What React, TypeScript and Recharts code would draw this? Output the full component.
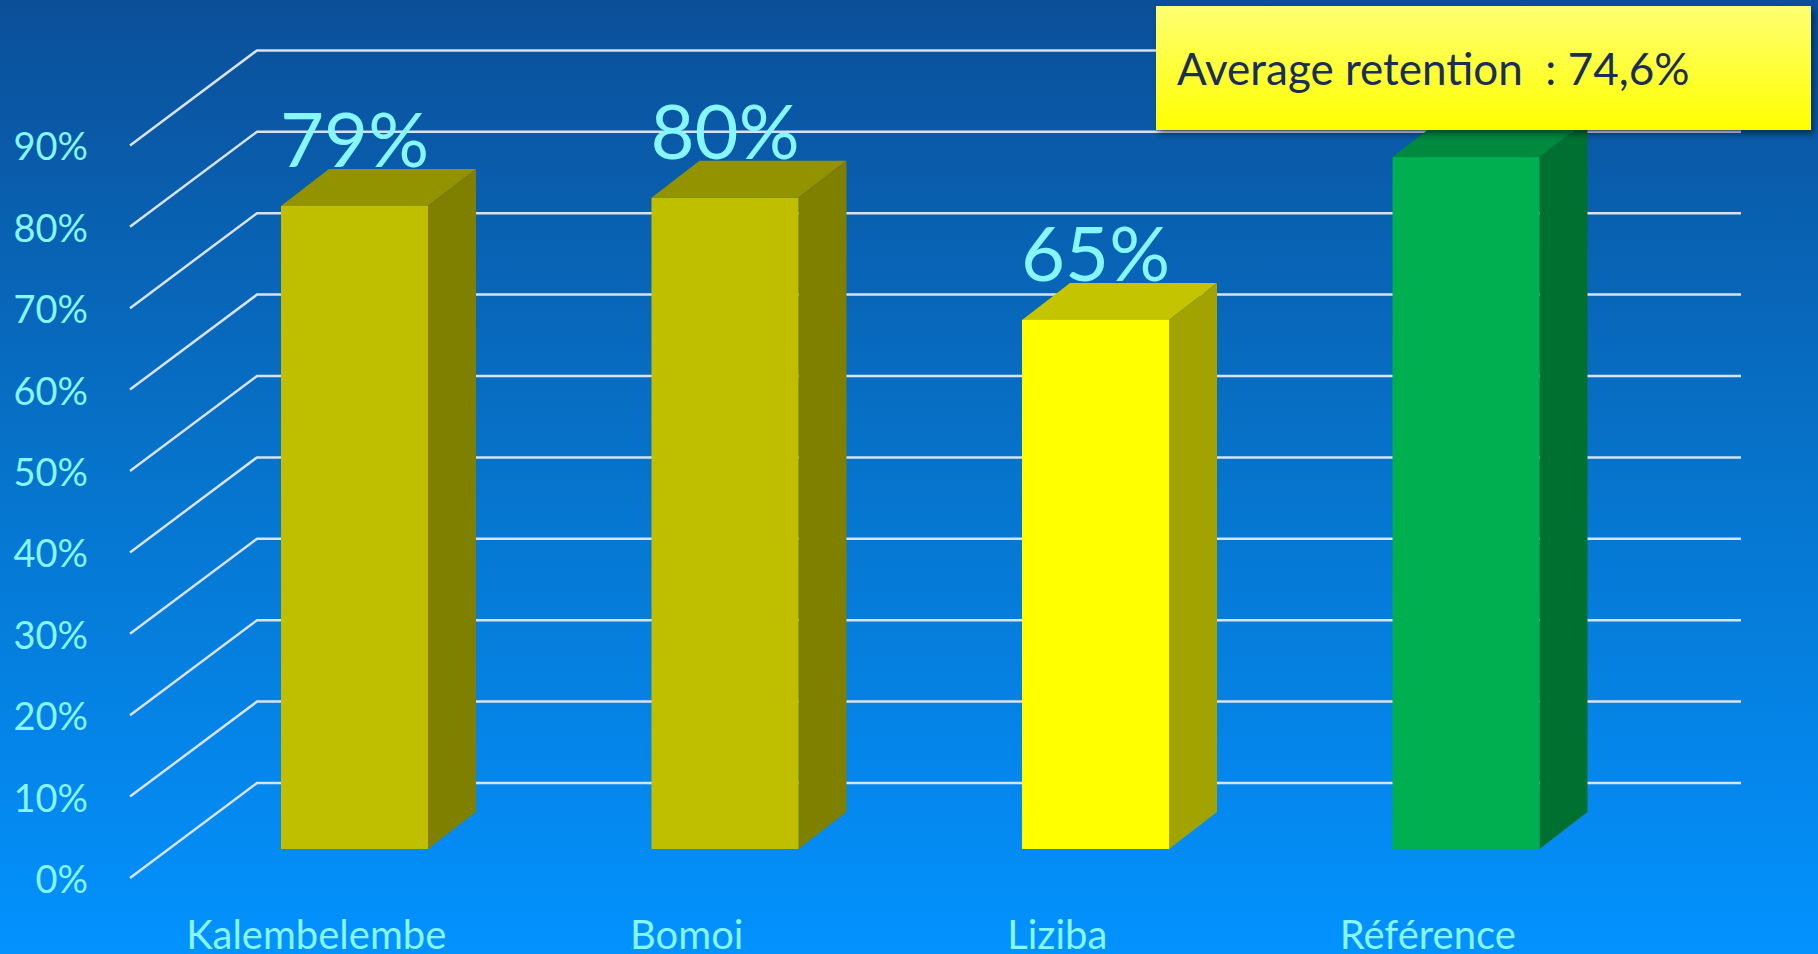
import React from 'react'
import { BarChart, Bar, XAxis, YAxis, CartesianGrid, Cell, LabelList } from 'recharts'

const sites = ['Kalembelembe', 'Bomoi', 'Liziba', 'Référence']
const retention = [79, 80, 65, 85]
const yTicks = [0, 10, 20, 30, 40, 50, 60, 70, 80, 90]
const averageText = 'Average retention  : 74,6%'

// front / top / side shades for each bar
const palette = [
  { front: '#bfbf00', top: '#939300', side: '#7f7f00' },
  { front: '#bfbf00', top: '#939300', side: '#7f7f00' },
  { front: '#ffff00', top: '#c4c400', side: '#a3a300' },
  { front: '#00b050', top: '#008a3e', side: '#007030' },
]

const data = sites.map((name, i) => ({ name, value: retention[i] }))

const FONT = 'Lato, "Open Sans", sans-serif'
const CYAN = '#86f6ff'
const DEPTH_X = 48
const DEPTH_Y = 37
// grid sits behind the bar front plane
const BACK_DY = -66
const FRONT_DY = 29
const BACK_X1 = 257
const BACK_X2 = 1741
const FRONT_X = 130

function Box3D(props: any) {
  const { x, y, width, height, index } = props
  const c = palette[index] || palette[0]
  const x2 = x + width
  const yb = y + height
  return (
    <g>
      <polygon
        points={`${x},${y} ${x + DEPTH_X},${y - DEPTH_Y} ${x2 + DEPTH_X},${y - DEPTH_Y} ${x2},${y}`}
        fill={c.top}
      />
      <polygon
        points={`${x2},${y} ${x2 + DEPTH_X},${y - DEPTH_Y} ${x2 + DEPTH_X},${yb - DEPTH_Y} ${x2},${yb}`}
        fill={c.side}
      />
      <rect x={x} y={y} width={width} height={height} fill={c.front} />
    </g>
  )
}

function GridLine(props: any) {
  const y = props.y1
  // skip the plot's top border, only the tick lines are wanted
  if (Math.abs(y - props.y) < 1) return <g key={props.key ?? 'top'} />
  return (
    <polyline
      key={props.key ?? `g-${y}`}
      points={`${FRONT_X},${y + FRONT_DY} ${BACK_X1},${y + BACK_DY} ${BACK_X2},${y + BACK_DY}`}
      fill="none"
      stroke="#d9e2ef"
      strokeWidth={2.5}
    />
  )
}

function YTick(props: any) {
  const { y, payload } = props
  return (
    <text x={88} y={y + FRONT_DY} textAnchor="end" dominantBaseline="central" fill={CYAN} fontSize={38} fontFamily={FONT}>
      {payload.value}%
    </text>
  )
}

function XTick(props: any) {
  const { x, payload } = props
  return (
    <text x={x - 38} y={934} textAnchor="middle" dominantBaseline="central" fill={CYAN} fontSize={40} fontFamily={FONT}>
      {payload.value}
    </text>
  )
}

function ValueLabel(props: any) {
  const { x, y, width, value } = props
  return (
    <text x={x + width / 2} y={y - DEPTH_Y - 2} textAnchor="middle" fill={CYAN} fontSize={76} fontFamily={FONT}>
      {value}%
    </text>
  )
}

export default function App() {
  return (
    <div
      style={{
        position: 'fixed',
        left: 0,
        top: 0,
        width: 1818,
        height: 954,
        overflow: 'hidden',
        background: 'linear-gradient(to bottom, #0b4f99 0%, #0674cc 50%, #0392ff 100%)',
      }}
    >
      <BarChart width={1818} height={954} data={data} margin={{ top: 35, right: 167, bottom: 0, left: 69 }}>
        <CartesianGrid vertical={false} horizontal={GridLine} stroke="none" />
        <XAxis dataKey="name" axisLine={false} tickLine={false} height={105} tick={XTick} interval={0} />
        <YAxis
          domain={[0, 100]}
          ticks={yTicks}
          width={100}
          axisLine={false}
          tickLine={false}
          tick={YTick}
        />
        <Bar dataKey="value" barSize={147} shape={Box3D} isAnimationActive={false}>
          {data.map((d, i) => (
            <Cell key={d.name} fill={palette[i].front} />
          ))}
          <LabelList dataKey="value" content={ValueLabel} />
        </Bar>
      </BarChart>
      <div
        style={{
          position: 'absolute',
          left: 1156,
          top: 6,
          width: 655,
          height: 124,
          background: 'linear-gradient(to bottom, #ffff72 0%, #ffff00 100%)',
          boxShadow: '3px 4px 6px rgba(0,0,0,0.45)',
          fontFamily: FONT,
          fontSize: 44,
          color: '#1b2e55',
          whiteSpace: 'pre',
          paddingLeft: 21,
          lineHeight: '124px',
          boxSizing: 'border-box',
        }}
      >
        {averageText}
      </div>
    </div>
  )
}
